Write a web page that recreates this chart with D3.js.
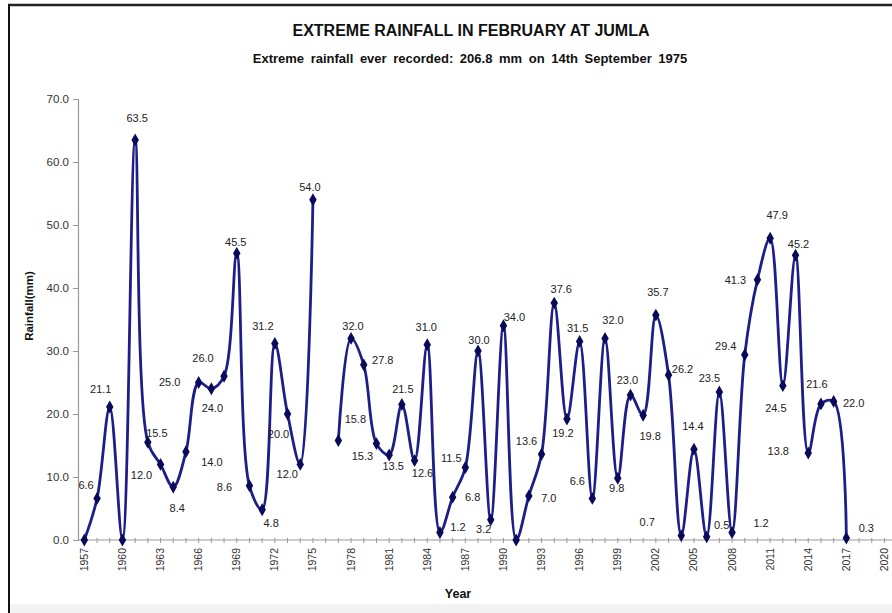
<!DOCTYPE html>
<html><head><meta charset="utf-8">
<script src="https://cdn.jsdelivr.net/npm/d3@7"></script>
<style>html,body{margin:0;padding:0;background:#fff;}svg{display:block;}</style>
</head><body>
<svg id="c" width="892" height="613"></svg>
<script>
const years = [1957,1958,1959,1960,1961,1962,1963,1964,1965,1966,1967,1968,1969,1970,1971,1972,1973,1974,1975,1976,
1977,1978,1979,1980,1981,1982,1983,1984,1985,1986,1987,1988,1989,1990,1991,1992,1993,1994,1995,1996,1997,1998,1999,
2000,2001,2002,2003,2004,2005,2006,2007,2008,2009,2010,2011,2012,2013,2014,2015,2016,2017];
const rainfall = [0.0,6.6,21.1,0.0,63.5,15.5,12.0,8.4,14.0,25.0,24.0,26.0,45.5,8.6,4.8,31.2,20.0,12.0,54.0,null,
15.8,32.0,27.8,15.3,13.5,21.5,12.6,31.0,1.2,6.8,11.5,30.0,3.2,34.0,0.0,7.0,13.6,37.6,19.2,31.5,6.6,32.0,9.8,
23.0,19.8,35.7,26.2,0.7,14.4,0.5,23.5,1.2,29.4,41.3,47.9,24.5,45.2,13.8,21.6,22.0,0.3];
const yTicks = [0,10,20,30,40,50,60,70];
const xTickYears = [1957,1960,1963,1966,1969,1972,1975,1978,1981,1984,1987,1990,1993,1996,1999,2002,2005,2008,2011,2014,2017,2020];
// label offsets (dx, dy) from each marker
const labelOffsets = [[0,0],[-11,-13],[-9,-18],[0,0],[2,-22],[9,-9],[-19,11],[4,21],[26,10],[-29,0],[1,19],[-21,-18],[-1,-11],[-25,1],[9,13],[-12,-17],[-9,20],[-13,10],[-3,-13],[0,0],
[17,-21],[2,-12],[19,-5],[-14,13],[4,11],[1,-15],[8,13],[-1,-18],[18,-5],[20,0],[-14,-9],[1,-11],[-7,9],[11,-9],[0,0],[20,2],[-15,-13],[7,-14],[-4,14],[-2,-13],[-15,-17],[8,-18],[-1,10],
[-3,-15],[7,21],[2,-23],[14,-6],[-34,-13],[-1,-23],[15,-12],[-10,-14],[29,-9],[-19,-9],[-22,0],[7,-23],[-7,22],[3,-11],[-30,-2],[-4,-20],[20,2],[20,-10]];

const svg = d3.select('#c');
const W = 892, H = 613;
const FONT = 'Arial, Liberation Sans, sans-serif';
svg.append('rect').attr('x',0).attr('y',0).attr('width',W).attr('height',H).attr('fill','#fff');
svg.append('rect').attr('x',10).attr('y',604).attr('width',W-10).attr('height',H-604).attr('fill','#f3f3f3');
// frame
svg.append('line').attr('x1',8).attr('x2',W).attr('y1',5).attr('y2',5).attr('stroke','#222').attr('stroke-width',2.5);
svg.append('line').attr('x1',9).attr('x2',9).attr('y1',4).attr('y2',H).attr('stroke','#111').attr('stroke-width',2);

const x = d3.scaleLinear().domain([1956.5, 2020.5]).range([78, 78 + 64*12.7]);
const y = d3.scaleLinear().domain([0,70]).range([540, 99]);

// axes
const gy = svg.append('g').attr('transform','translate(78,0)')
  .call(d3.axisLeft(y).tickValues(yTicks).tickFormat(d3.format('.1f')).tickSize(5).tickPadding(4));
gy.select('.domain').attr('stroke','#999').attr('stroke-width',1.2);
gy.selectAll('.tick line').attr('stroke','#999');
gy.selectAll('text').attr('font-family',FONT).attr('font-size',11.5).attr('fill','#333');

const allYears = d3.range(1957, 2021);
const gx = svg.append('g').attr('transform','translate(0,540)');
gx.append('line').attr('x1',78).attr('x2',W).attr('y1',0).attr('y2',0).attr('stroke','#999').attr('stroke-width',1.2);
gx.selectAll('line.t').data(allYears).join('line').attr('class','t')
  .attr('x1',d=>x(d)).attr('x2',d=>x(d)).attr('y1',-2).attr('y2',3).attr('stroke','#999');
gx.selectAll('text').data(xTickYears).join('text')
  .attr('transform',d=>`translate(${x(d)+3.5},8) rotate(-90)`)
  .attr('text-anchor','end')
  .attr('font-family',FONT).attr('font-size',10.5).attr('fill','#333')
  .text(d=>d);

// clip
svg.append('clipPath').attr('id','pc').append('rect').attr('x',78).attr('y',60).attr('width',W-78).attr('height',540-60);

const pts = years.map((yr,i)=>({yr, v: rainfall[i], off: labelOffsets[i]}));
const line = d3.line().defined(d=>d.v!==null).x(d=>x(d.yr)).y(d=>y(d.v)).curve(d3.curveCatmullRom.alpha(0.5));
svg.append('path').datum(pts).attr('d',line).attr('fill','none')
  .attr('stroke','#1e1e88').attr('stroke-width',2.8).attr('clip-path','url(#pc)');

const valid = pts.filter(d=>d.v!==null);
svg.selectAll('path.m').data(valid).join('path').attr('class','m')
  .attr('d', d3.symbol(d3.symbolDiamond, 48)())
  .attr('transform',d=>`translate(${x(d.yr)},${y(d.v)})`)
  .attr('fill','#0a0a5a');

svg.selectAll('text.lab').data(valid.filter(d=>d.v!==0)).join('text').attr('class','lab')
  .attr('x',d=>x(d.yr)+d.off[0]).attr('y',d=>y(d.v)+d.off[1]).attr('dy','0.35em')
  .attr('text-anchor','middle')
  .attr('font-family',FONT).attr('font-size',11).attr('fill','#222')
  .text(d=>d.v.toFixed(1));

// titles
svg.append('text').attr('x',471).attr('y',36).attr('text-anchor','middle')
  .attr('font-family',FONT).attr('font-weight','bold').attr('font-size',16).attr('fill','#111')
  .text('EXTREME RAINFALL IN FEBRUARY AT JUMLA');
svg.append('text').attr('x',470).attr('y',63).attr('text-anchor','middle')
  .attr('font-family',FONT).attr('font-weight','bold').attr('font-size',13).attr('fill','#111')
  .attr('word-spacing',3)
  .text('Extreme rainfall ever recorded: 206.8 mm on 14th September 1975');
svg.append('text').attr('transform','translate(33,306) rotate(-90)').attr('text-anchor','middle')
  .attr('font-family',FONT).attr('font-weight','bold').attr('font-size',11.5).attr('fill','#111')
  .text('Rainfall(mm)');
svg.append('text').attr('x',458).attr('y',598).attr('text-anchor','middle')
  .attr('font-family',FONT).attr('font-weight','bold').attr('font-size',12.5).attr('fill','#111')
  .text('Year');
</script>
</body></html>
